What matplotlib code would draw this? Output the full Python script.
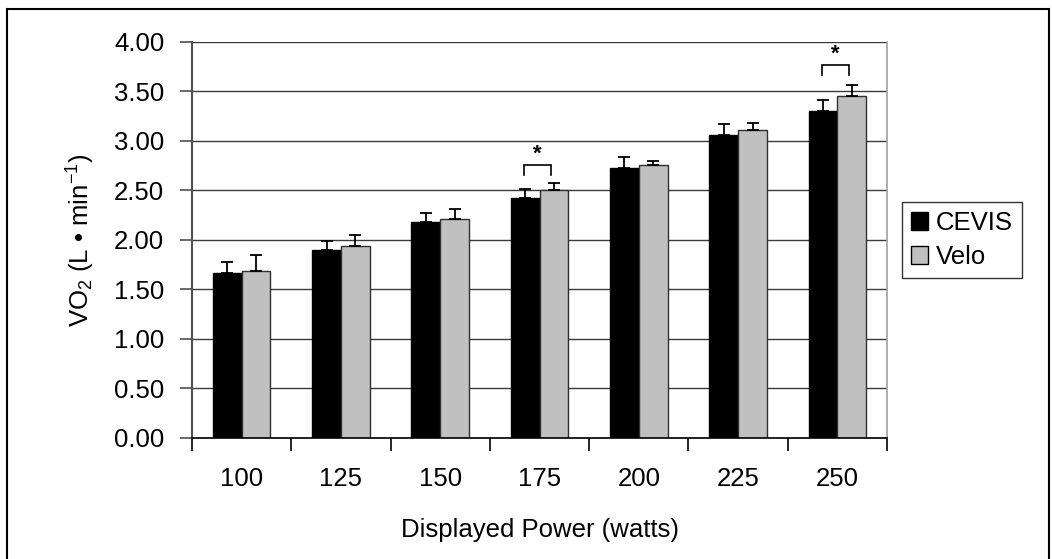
import numpy as np
import matplotlib
matplotlib.use("Agg")
import matplotlib.pyplot as plt
from matplotlib.patches import Patch, Rectangle

plt.rcParams['font.family'] = ['Liberation Sans', 'DejaVu Sans']
plt.rcParams['mathtext.fontset'] = 'custom'
plt.rcParams['mathtext.rm'] = 'Liberation Sans'
plt.rcParams['mathtext.it'] = 'Liberation Sans'

# Data
power_labels = ['100', '125', '150', '175', '200', '225', '250']
cevis_vo2 = [1.67, 1.90, 2.18, 2.42, 2.73, 3.06, 3.30]
cevis_sd = [0.11, 0.09, 0.09, 0.09, 0.11, 0.11, 0.11]
velo_vo2 = [1.69, 1.94, 2.21, 2.50, 2.76, 3.11, 3.45]
velo_sd = [0.155, 0.11, 0.10, 0.08, 0.04, 0.07, 0.12]
sig_groups = [3, 6]
sig_bracket_top = [2.76, 3.77]

fig = plt.figure(figsize=(10.52, 5.59), dpi=100)
ax = fig.add_axes([0.1825, 0.2165, 0.8432 - 0.1825, 0.9249 - 0.2165])

x = np.arange(len(power_labels))
w = 0.29
fs = 18.5

ax.set_axisbelow(True)
ax.yaxis.grid(True, color='#3a3a3a', linewidth=1.0)

ax.bar(x - w / 2, cevis_vo2, w, color='black', edgecolor='black', linewidth=1.0,
       label='CEVIS', zorder=2)
ax.bar(x + w / 2, velo_vo2, w, color='#c0c0c0', edgecolor='#303030', linewidth=1.0,
       label='Velo', zorder=2)

# upward-only error bars
ax.errorbar(x - w / 2, cevis_vo2, yerr=[np.zeros(len(x)), cevis_sd], fmt='none',
            ecolor='black', elinewidth=1.3, capsize=4, capthick=1.3, zorder=3)
ax.errorbar(x + w / 2, velo_vo2, yerr=[np.zeros(len(x)), velo_sd], fmt='none',
            ecolor='black', elinewidth=1.3, capsize=4, capthick=1.3, zorder=3)

# significance brackets
for g, top in zip(sig_groups, sig_bracket_top):
    x0, x1 = g - w / 2 - 0.01, g + w / 2 - 0.03
    ax.plot([x0, x0, x1, x1], [top - 0.10, top, top, top - 0.10], color='black',
            linewidth=1.2, zorder=3, solid_joinstyle='miter')
    ax.text((x0 + x1) / 2, top + 0.0, '*', ha='center', va='bottom',
            fontsize=16, fontweight='bold')

ax.set_xlim(-0.5, len(x) - 0.5)
ax.set_ylim(0, 4)
ax.set_yticks(np.arange(0, 4.01, 0.5))
ax.set_yticklabels([f'{v:.2f}' for v in np.arange(0, 4.01, 0.5)], fontsize=fs)
ax.set_xticks(x)
ax.set_xticklabels(power_labels, fontsize=fs)
ax.set_xticks(np.arange(-0.5, len(x)), minor=True)
ax.tick_params(axis='x', which='major', length=0, pad=21)
ax.tick_params(axis='x', which='minor', length=9, width=1.2, direction='out', color='black')
ax.tick_params(axis='y', length=9, width=1.2, direction='out', color='#505050', pad=11)

ax.spines['top'].set_visible(False)
ax.spines['right'].set_color('#a0a0a0')
ax.spines['right'].set_linewidth(1.2)
ax.spines['left'].set_color('#505050')
ax.spines['left'].set_linewidth(1.5)
ax.spines['bottom'].set_color('black')
ax.spines['bottom'].set_linewidth(1.2)

ax.set_xlabel('Displayed Power (watts)', fontsize=fs, labelpad=19)
ax.set_ylabel(r'VO$_2$ (L • min$^{-1}$)', fontsize=fs, labelpad=12)

handles = [Patch(facecolor='black', edgecolor='black', label='CEVIS'),
           Patch(facecolor='#c0c0c0', edgecolor='black', label='Velo')]
leg = fig.legend(handles=handles, loc='center left', bbox_to_anchor=(0.8574, 0.5707),
                 fontsize=fs, frameon=True, fancybox=False, shadow=False,
                 handlelength=0.68, handleheight=0.68, handletextpad=0.3,
                 labelspacing=0.4, borderpad=0.35, borderaxespad=0)
leg.get_frame().set_edgecolor('black')
leg.get_frame().set_linewidth(1.0)

# outer chart border
fig.patches.append(Rectangle((7 / 1052, -3 / 559), 1042 / 1052, 553 / 559,
                             transform=fig.transFigure, fill=False,
                             edgecolor='black', linewidth=1.5))

fig.savefig('out.png', dpi=100)
